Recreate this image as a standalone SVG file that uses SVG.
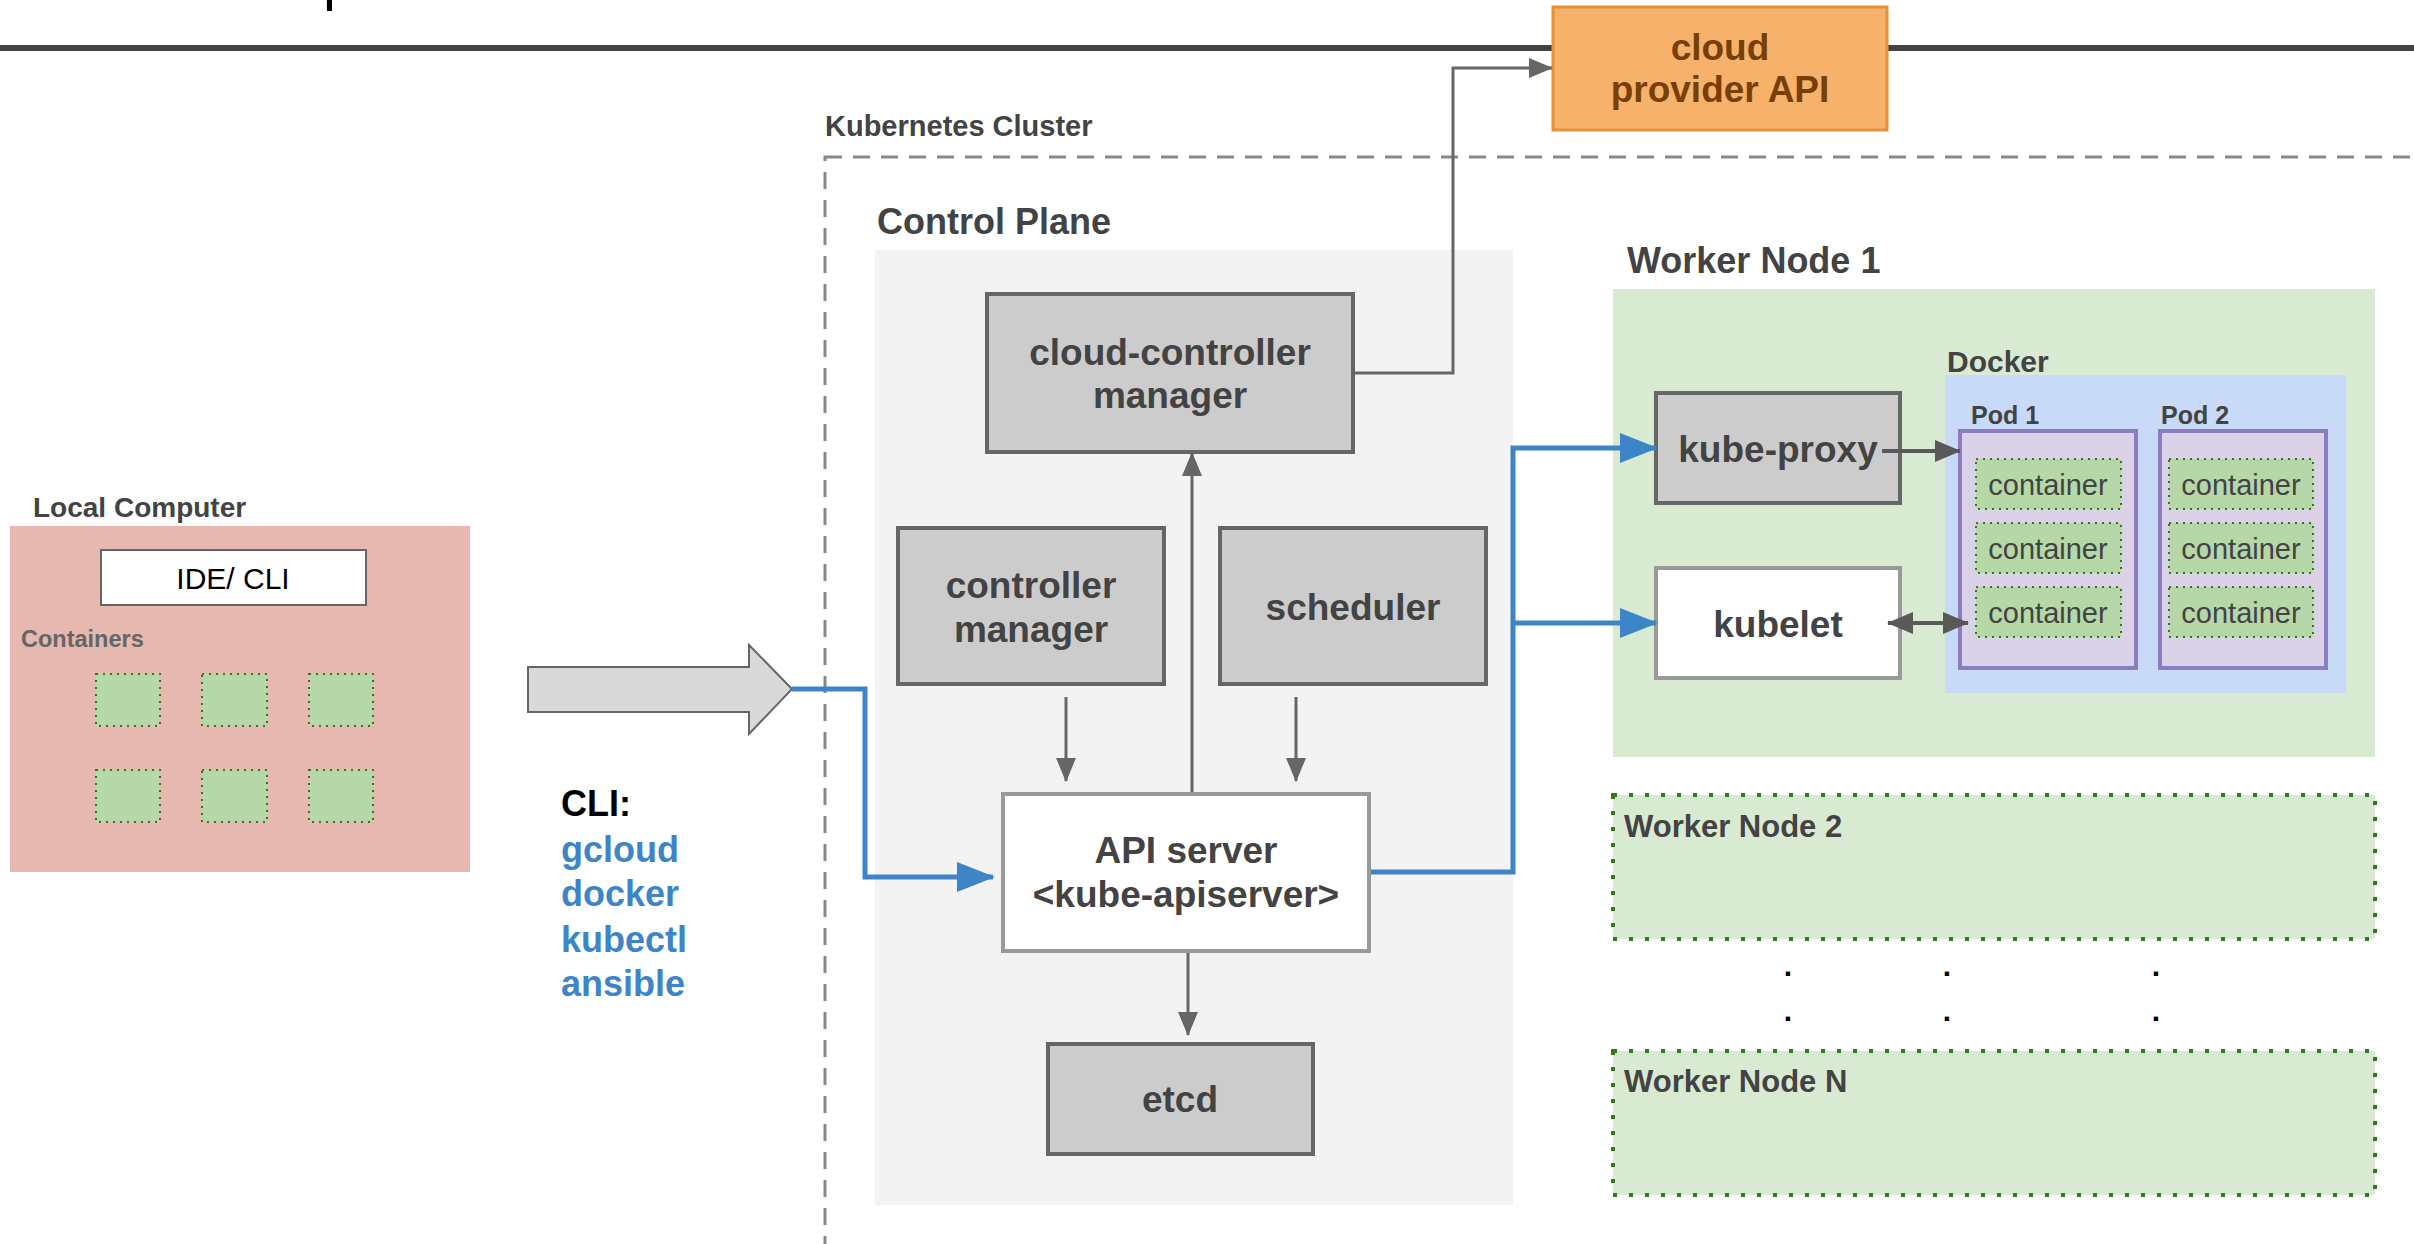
<svg xmlns="http://www.w3.org/2000/svg" width="2414" height="1244" viewBox="0 0 2414 1244">
<defs>
<style>
text { font-family: "Liberation Sans", Arial, sans-serif; }
.lbl { font-size: 37px; font-weight: bold; fill: #434343; text-anchor: middle; }
.title { font-weight: bold; fill: #434343; }
.gbox { fill: #cccccc; stroke: #666666; stroke-width: 4; }
.wbox { fill: #ffffff; stroke: #999999; stroke-width: 4; }
.ctr { fill: #b6d7a8; stroke: #38761d; stroke-width: 2; stroke-dasharray: 2 5; }
.ctext { font-size: 29px; fill: #434343; text-anchor: middle; }
.pod { fill: #d9d2e9; stroke: #8e7cc3; stroke-width: 4; }
.wn { fill: #d9ead3; stroke: #38761d; stroke-width: 4; stroke-dasharray: 4 12; }
.gray { fill: none; stroke: #666666; stroke-width: 3; }
.dark { fill: none; stroke: #595959; stroke-width: 4; }
.blue { fill: none; stroke: #3d85c6; stroke-width: 5; }
.cli { font-size: 36px; font-weight: bold; fill: #3d85c6; }
.dot { font-size: 30px; font-weight: bold; fill: #000000; text-anchor: middle; }
</style>
<marker id="ag" markerUnits="userSpaceOnUse" markerWidth="24" markerHeight="20" refX="23" refY="10" orient="auto"><path d="M0,0 L24,10 L0,20 z" fill="#666666"/></marker>
<marker id="ad" markerUnits="userSpaceOnUse" markerWidth="26" markerHeight="22" refX="25" refY="11" orient="auto-start-reverse"><path d="M0,0 L26,11 L0,22 z" fill="#595959"/></marker>
<marker id="ab" markerUnits="userSpaceOnUse" markerWidth="38" markerHeight="30" refX="36" refY="15" orient="auto"><path d="M0,0 L38,15 L0,30 z" fill="#3d85c6"/></marker>
</defs>

<rect width="2414" height="1244" fill="#ffffff"/>

<text x="323" y="-1" font-size="58" fill="#000000">p</text>
<line x1="0" y1="48" x2="2414" y2="48" stroke="#434343" stroke-width="6"/>

<g id="cloud-provider-api">
<rect x="1553" y="7" width="334" height="123" fill="#f6b26b" stroke="#e69138" stroke-width="3"/>
<text class="lbl" x="1720" y="60" style="fill:#783f04">cloud</text>
<text class="lbl" x="1720" y="102" style="fill:#783f04">provider API</text>
</g>

<g id="kubernetes-cluster">
<rect x="825" y="157" width="1700" height="1200" fill="none" stroke="#888888" stroke-width="3" stroke-dasharray="17 11"/>
<text class="title" x="825" y="136" font-size="29">Kubernetes Cluster</text>
</g>

<g id="control-plane">
<rect x="875" y="250" width="638" height="955" fill="#f3f3f3"/>
<text class="title" x="877" y="234" font-size="36">Control Plane</text>
</g>

<g id="local-computer">
<text class="title" x="33" y="517" font-size="28">Local Computer</text>
<rect x="10" y="526" width="460" height="346" fill="#e6b8af"/>
<rect x="101" y="550" width="265" height="55" fill="#ffffff" stroke="#666666" stroke-width="2"/>
<text x="233" y="589" font-size="30" fill="#000000" text-anchor="middle">IDE/ CLI</text>
<text x="21" y="647" font-size="23.5" font-weight="bold" fill="#666666">Containers</text>
<rect class="ctr" x="96" y="674" width="64" height="52"/>
<rect class="ctr" x="202" y="674" width="65" height="52"/>
<rect class="ctr" x="309" y="674" width="64" height="52"/>
<rect class="ctr" x="96" y="770" width="64" height="52"/>
<rect class="ctr" x="202" y="770" width="65" height="52"/>
<rect class="ctr" x="309" y="770" width="64" height="52"/>
</g>

<g id="cli-arrow">
<polygon points="528,667 749,667 749,645 792,689 749,734 749,712 528,712" fill="#d9d9d9" stroke="#666666" stroke-width="2"/>
</g>

<g id="cli-list">
<text x="561" y="816" font-size="36" font-weight="bold" fill="#000000">CLI:</text>
<text class="cli" x="561" y="862">gcloud</text>
<text class="cli" x="561" y="906">docker</text>
<text class="cli" x="561" y="952">kubectl</text>
<text class="cli" x="561" y="996">ansible</text>
</g>

<g id="cloud-controller-manager">
<rect class="gbox" x="987" y="294" width="366" height="158"/>
<text class="lbl" x="1170" y="365">cloud-controller</text>
<text class="lbl" x="1170" y="408">manager</text>
</g>

<g id="controller-manager">
<rect class="gbox" x="898" y="528" width="266" height="156"/>
<text class="lbl" x="1031" y="598">controller</text>
<text class="lbl" x="1031" y="642">manager</text>
</g>

<g id="scheduler">
<rect class="gbox" x="1220" y="528" width="266" height="156"/>
<text class="lbl" x="1353" y="620">scheduler</text>
</g>

<g id="api-server">
<rect class="wbox" x="1003" y="794" width="366" height="157"/>
<text class="lbl" x="1186" y="863">API server</text>
<text class="lbl" x="1186" y="907">&lt;kube-apiserver&gt;</text>
</g>

<g id="etcd">
<rect class="gbox" x="1048" y="1044" width="265" height="110"/>
<text class="lbl" x="1180" y="1112">etcd</text>
</g>

<g id="worker-node-1">
<text class="title" x="1627" y="273" font-size="36">Worker Node 1</text>
<rect x="1613" y="289" width="762" height="468" fill="#d9ead3"/>
</g>

<g id="docker">
<rect x="1945" y="375" width="401" height="318" fill="#c9daf8"/>
<text class="title" x="1947" y="372" font-size="30">Docker</text>
</g>

<g id="kube-proxy">
<rect class="gbox" x="1656" y="393" width="244" height="110"/>
<text class="lbl" x="1778" y="462">kube-proxy</text>
</g>

<g id="kubelet">
<rect class="wbox" x="1656" y="568" width="244" height="110"/>
<text class="lbl" x="1778" y="637">kubelet</text>
</g>

<g id="pod-1">
<text class="title" x="1971" y="424" font-size="25">Pod 1</text>
<rect class="pod" x="1960" y="431" width="176" height="237"/>
<rect class="ctr" x="1976" y="459" width="145" height="50"/>
<text class="ctext" x="2048" y="495">container</text>
<rect class="ctr" x="1976" y="523" width="145" height="50"/>
<text class="ctext" x="2048" y="559">container</text>
<rect class="ctr" x="1976" y="587" width="145" height="50"/>
<text class="ctext" x="2048" y="623">container</text>
</g>

<g id="pod-2">
<text class="title" x="2161" y="424" font-size="25">Pod 2</text>
<rect class="pod" x="2160" y="431" width="166" height="237"/>
<rect class="ctr" x="2169" y="459" width="144" height="50"/>
<text class="ctext" x="2241" y="495">container</text>
<rect class="ctr" x="2169" y="523" width="144" height="50"/>
<text class="ctext" x="2241" y="559">container</text>
<rect class="ctr" x="2169" y="587" width="144" height="50"/>
<text class="ctext" x="2241" y="623">container</text>
</g>

<g id="worker-node-2">
<rect class="wn" x="1613" y="795" width="762" height="144"/>
<text class="title" x="1624" y="837" font-size="31">Worker Node 2</text>
</g>

<g id="ellipsis">
<text class="dot" x="1788" y="976">.</text>
<text class="dot" x="1947" y="976">.</text>
<text class="dot" x="2156" y="976">.</text>
<text class="dot" x="1788" y="1021">.</text>
<text class="dot" x="1947" y="1021">.</text>
<text class="dot" x="2156" y="1021">.</text>
</g>

<g id="worker-node-n">
<rect class="wn" x="1613" y="1051" width="762" height="144"/>
<text class="title" x="1624" y="1092" font-size="31">Worker Node N</text>
</g>

<g id="connectors">
<path class="gray" d="M1355,373 H1453 V68 H1552" marker-end="url(#ag)"/>
<path class="gray" d="M1192,792 V453" marker-end="url(#ag)"/>
<path class="gray" d="M1066,697 V781" marker-end="url(#ag)"/>
<path class="gray" d="M1296,697 V781" marker-end="url(#ag)"/>
<path class="gray" d="M1188,953 V1035" marker-end="url(#ag)"/>
<path class="blue" d="M792,689 H865 V877 H993" marker-end="url(#ab)"/>
<path class="blue" d="M1371,872 H1513 V448 H1656" marker-end="url(#ab)"/>
<path class="blue" d="M1513,623 H1656" marker-end="url(#ab)"/>
<path class="dark" d="M1882,451 H1960" marker-end="url(#ad)"/>
<path class="dark" d="M1888,623 H1968" marker-start="url(#ad)" marker-end="url(#ad)"/>
</g>
</svg>
